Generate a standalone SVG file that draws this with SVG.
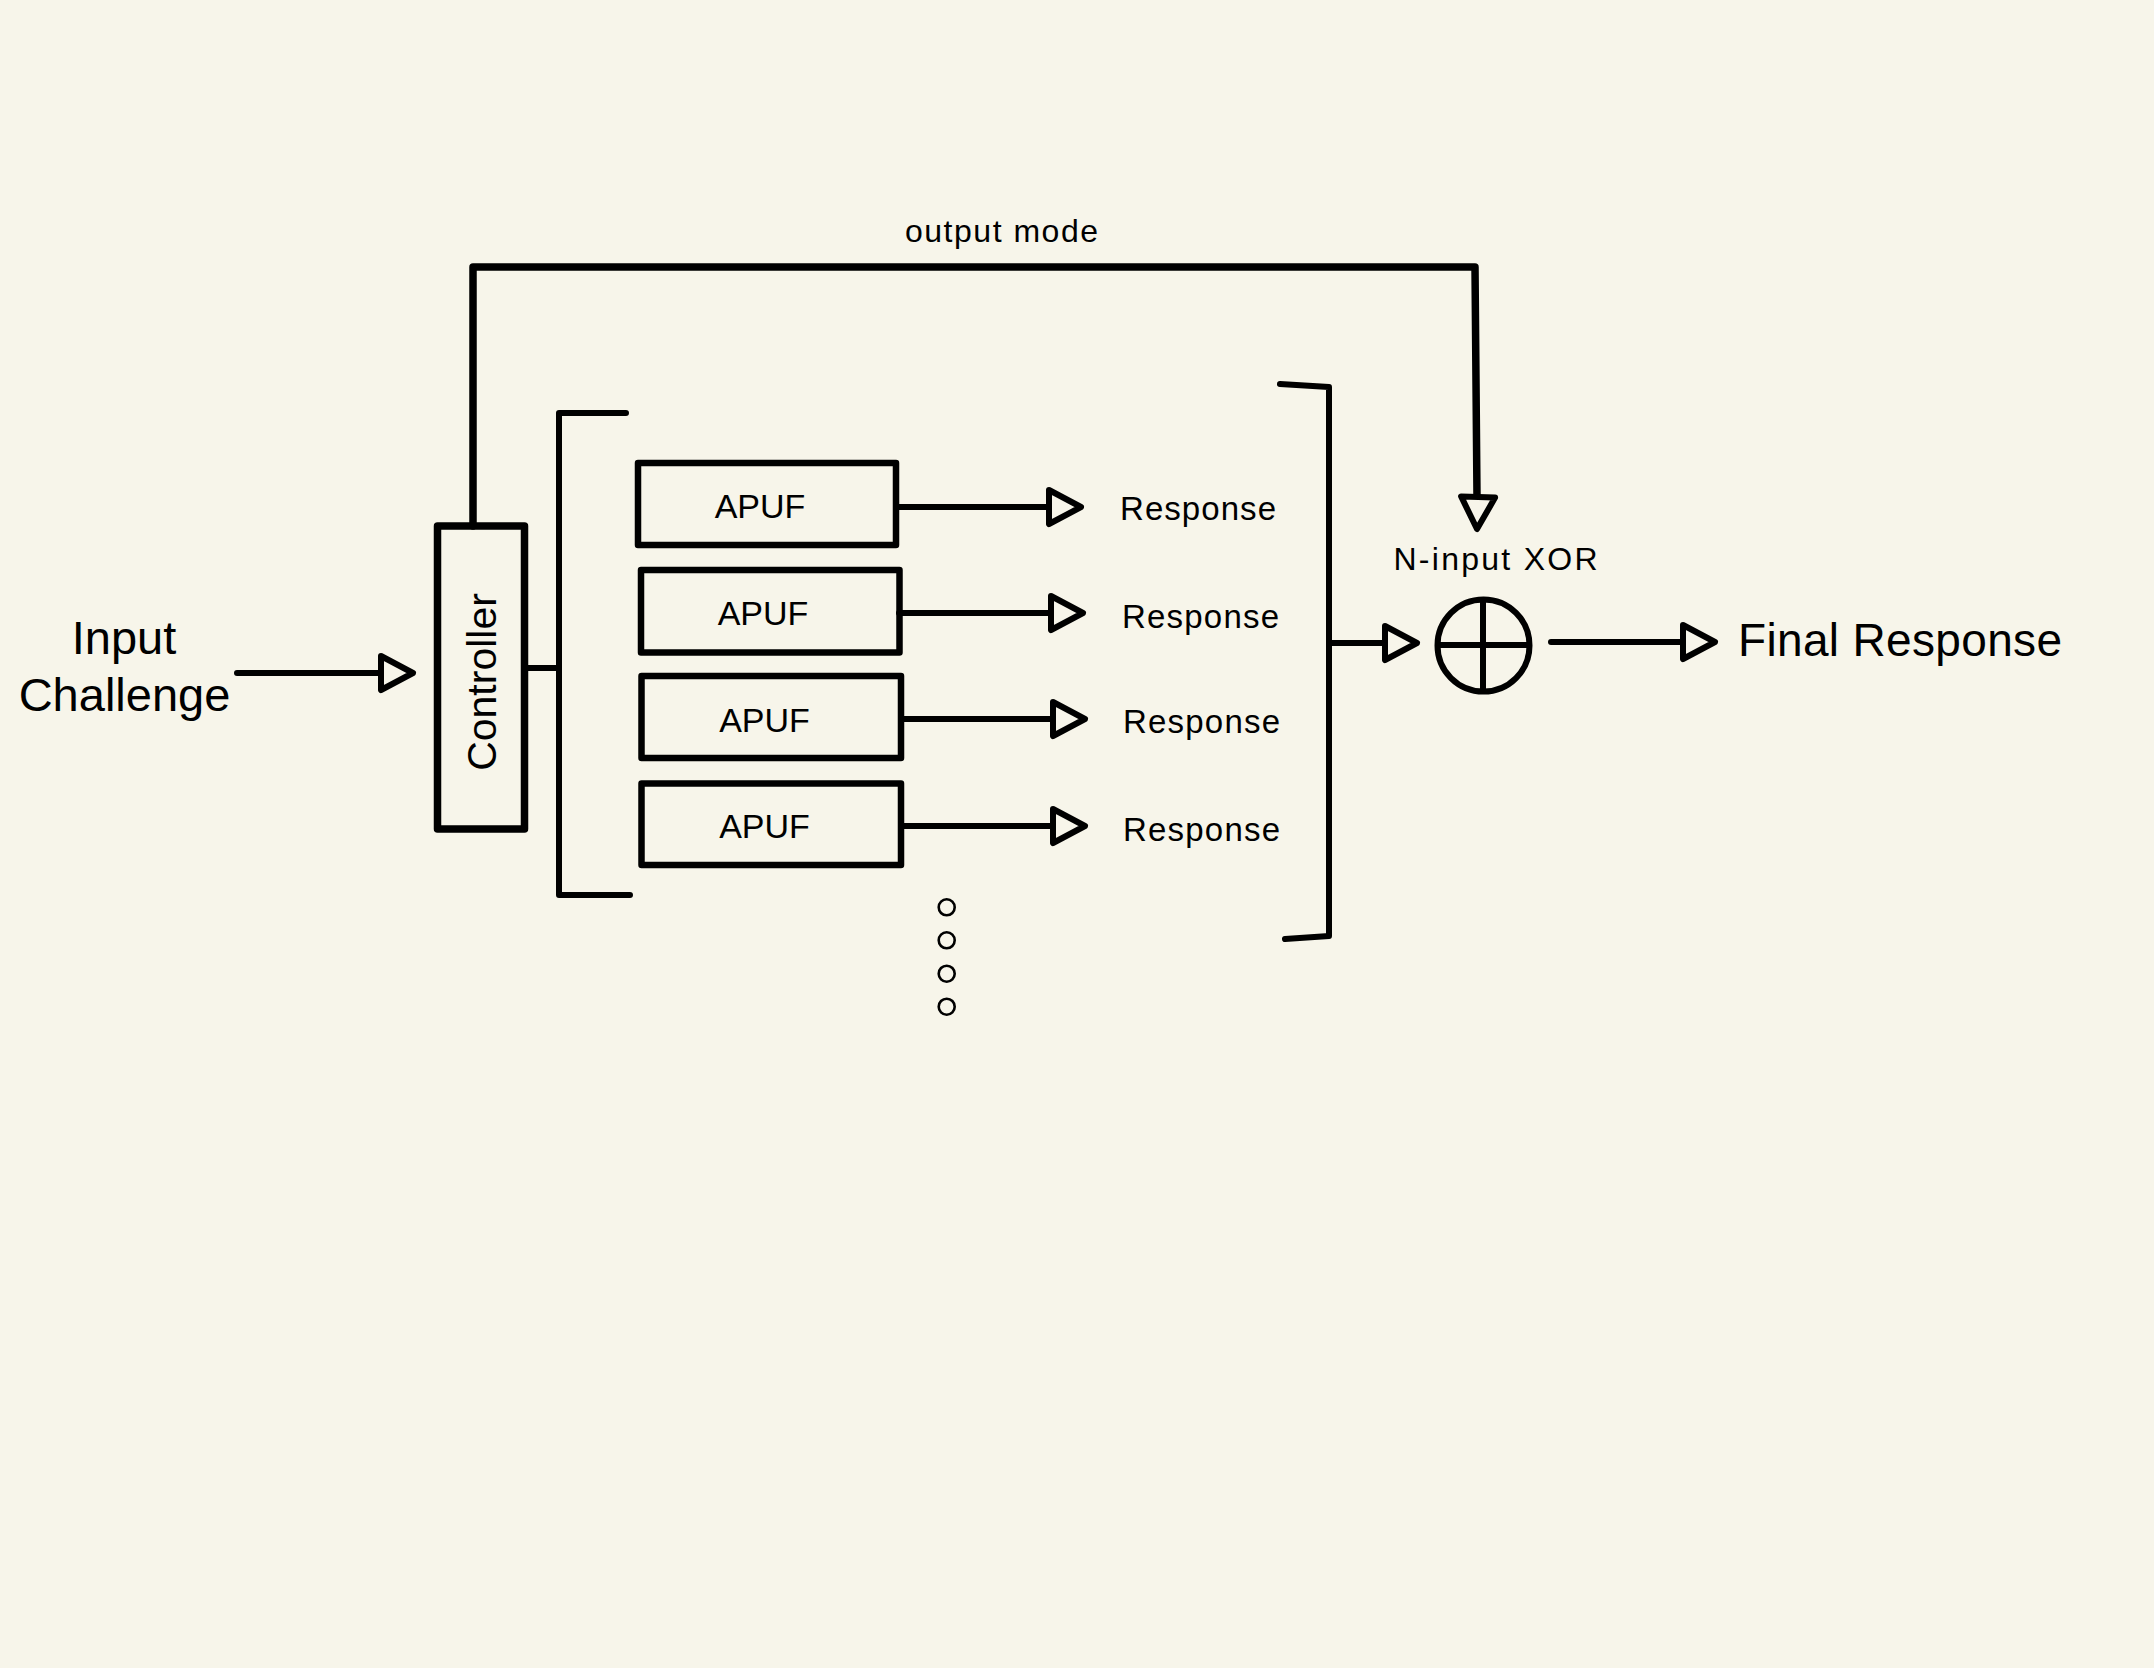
<svg xmlns="http://www.w3.org/2000/svg" width="2154" height="1668" viewBox="0 0 2154 1668">
<defs>
<style>
.ln{fill:none;stroke:#000;stroke-width:6;stroke-linecap:round;stroke-linejoin:round}
.thick{stroke-width:7.5}
.box{fill:none;stroke:#000;stroke-width:6.5;stroke-linejoin:round}
.ah{fill:#F7F5EA;stroke:#000;stroke-width:6;stroke-linejoin:round}
.dot{fill:none;stroke:#000;stroke-width:2.6}
text{font-family:"Liberation Sans",Arial,Helvetica,sans-serif;fill:#000}
.apuf{font-size:34px;text-anchor:middle}
.resp{font-size:33px}
</style>
<path id="ah" d="M-32,-17 L0,0 L-32,17 Z"/>
</defs>
<rect x="0" y="0" width="2154" height="1668" fill="#F7F5EA"/>

<g id="connectors">
  <path class="ln thick" d="M473,526 L473,267 L1475,267 L1477,497"/>
  <use href="#ah" class="ah" transform="translate(1477,529) rotate(92)"/>
  <line class="ln" x1="237" y1="673" x2="381" y2="673"/>
  <use href="#ah" class="ah" transform="translate(413,673)"/>
  <line class="ln" x1="524" y1="668" x2="559" y2="668"/>
  <line class="ln" x1="896" y1="507" x2="1049" y2="507"/>
  <use href="#ah" class="ah" transform="translate(1081,507)"/>
  <line class="ln" x1="899" y1="613" x2="1051" y2="613"/>
  <use href="#ah" class="ah" transform="translate(1083,613)"/>
  <line class="ln" x1="901" y1="719" x2="1053" y2="719"/>
  <use href="#ah" class="ah" transform="translate(1085,719)"/>
  <line class="ln" x1="901" y1="826" x2="1053" y2="826"/>
  <use href="#ah" class="ah" transform="translate(1085,826)"/>
  <line class="ln" x1="1329" y1="643" x2="1385" y2="643"/>
  <use href="#ah" class="ah" transform="translate(1417,643)"/>
  <line class="ln" x1="1551" y1="642" x2="1683" y2="642"/>
  <use href="#ah" class="ah" transform="translate(1715,642)"/>
</g>

<g id="input-label">
  <text x="124" y="654" font-size="47" text-anchor="middle">Input</text>
  <text x="124.5" y="711" font-size="47" text-anchor="middle">Challenge</text>
</g>

<g id="controller">
  <rect class="box" x="437.5" y="526" width="87" height="303" style="stroke-width:7.5"/>
  <text transform="translate(496,682) rotate(-90)" font-size="41" text-anchor="middle">Controller</text>
</g>

<g id="left-bracket">
  <path class="ln" d="M626,413 L559,413 L559,895 L630,895"/>
</g>

<g id="apuf1">
  <rect class="box" x="638" y="463" width="258" height="82"/>
  <text class="apuf" x="760" y="518">APUF</text>
</g>
<g id="apuf2">
  <rect class="box" x="641" y="570" width="258.5" height="82.5"/>
  <text class="apuf" x="763" y="625">APUF</text>
</g>
<g id="apuf3">
  <rect class="box" x="641.5" y="676" width="259.5" height="82"/>
  <text class="apuf" x="764.5" y="732">APUF</text>
</g>
<g id="apuf4">
  <rect class="box" x="641.5" y="783.5" width="259.5" height="81.5"/>
  <text class="apuf" x="764.5" y="838">APUF</text>
</g>

<g id="responses">
  <text class="resp" x="1120" y="520" textLength="156">Response</text>
  <text class="resp" x="1122" y="628" textLength="157">Response</text>
  <text class="resp" x="1123" y="733" textLength="157">Response</text>
  <text class="resp" x="1123" y="841" textLength="157">Response</text>
</g>

<g id="dots">
  <circle class="dot" cx="946.7" cy="907.3" r="8"/>
  <circle class="dot" cx="946.7" cy="940.3" r="8"/>
  <circle class="dot" cx="946.7" cy="973.7" r="8"/>
  <circle class="dot" cx="946.7" cy="1006.7" r="8"/>
</g>

<g id="right-bracket">
  <path class="ln" d="M1280,384 L1329,387 L1329,936 L1285,939"/>
</g>

<g id="output-mode-label">
  <text x="905" y="242" font-size="32" textLength="193">output mode</text>
</g>

<g id="xor">
  <circle cx="1483.5" cy="645.5" r="46" fill="none" stroke="#000" stroke-width="6"/>
  <line class="ln" x1="1483" y1="599.5" x2="1483" y2="691.5" style="stroke-linecap:butt"/>
  <line class="ln" x1="1437.5" y1="645" x2="1529.5" y2="645" style="stroke-linecap:butt"/>
  <text x="1393.5" y="570" font-size="32" textLength="204">N-input XOR</text>
</g>

<g id="final-response">
  <text x="1738" y="656" font-size="46" textLength="324">Final Response</text>
</g>
</svg>
